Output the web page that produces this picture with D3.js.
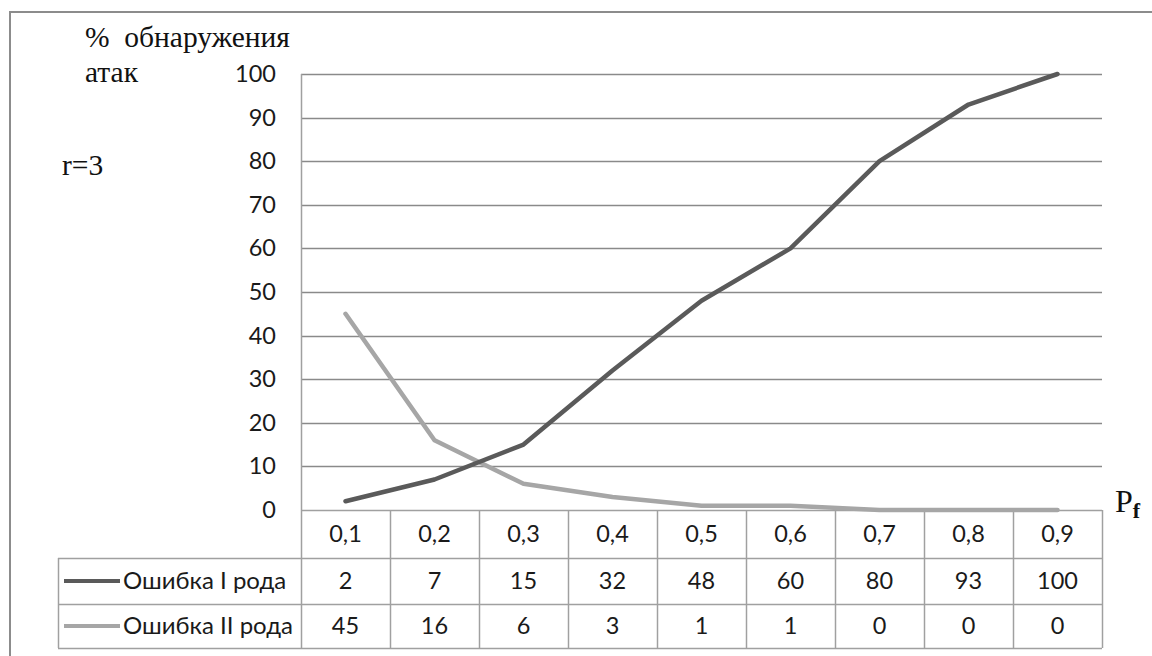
<!DOCTYPE html>
<html><head><meta charset="utf-8">
<script src="https://cdn.jsdelivr.net/npm/d3@7/dist/d3.min.js"></script>
<style>body{margin:0;background:#fff}svg{display:block}</style>
</head><body><svg id="c" width="1152" height="656"></svg>
<script>
const categories = ["0,1","0,2","0,3","0,4","0,5","0,6","0,7","0,8","0,9"];
const seriesNames = ["Ошибка I рода","Ошибка II рода"];
const error1 = [2,7,15,32,48,60,80,93,100];
const error2 = [45,16,6,3,1,1,0,0,0];
const yTicks = [0,10,20,30,40,50,60,70,80,90,100];
const seriesColors = ["#5a5a5a","#a6a6a6"];

const svg = d3.select("#c");
const L = 301, R = 1102, T = 74, B = 510;
const rowH = [48, 46, 44];
const tableLeft = 58;
const gridCol = "#8a8a8a", tabCol = "#a0a0a0";

const x = d3.scaleBand().domain(categories).range([L, R]);
const y = d3.scaleLinear().domain([0, 100]).range([B, T]);

svg.append("rect").attr("x",10).attr("y",12).attr("width",1160).attr("height",660)
  .attr("fill","none").attr("stroke","#8c8c8c").attr("stroke-width",2);

svg.append("g").selectAll("line").data(yTicks.filter(d=>d>0)).join("line")
  .attr("x1",L).attr("x2",R).attr("y1",d=>Math.round(y(d))+0.5).attr("y2",d=>Math.round(y(d))+0.5)
  .attr("stroke",gridCol).attr("stroke-width",1.5);

const fontS = "Lato,'Noto Sans',sans-serif";
const fs = 23.5;

const yAxis = d3.axisLeft(y).tickValues(yTicks).tickSize(0).tickPadding(0);
const ga = svg.append("g").attr("transform",`translate(${276},0)`).call(yAxis);
ga.select(".domain").remove();
ga.selectAll("text").attr("font-family",fontS).attr("font-size",fs).attr("fill","#1a1a1a");

const yRow0 = B, yRow1 = B + rowH[0], yRow2 = yRow1 + rowH[1], yRow3 = yRow2 + rowH[2];
const tg = svg.append("g").attr("stroke",tabCol).attr("stroke-width",1.5);
tg.append("line").attr("x1",L).attr("x2",R).attr("y1",yRow0+0.5).attr("y2",yRow0+0.5);
[yRow1,yRow2,yRow3].forEach(v=>tg.append("line").attr("x1",tableLeft).attr("x2",R).attr("y1",v+0.5).attr("y2",v+0.5));
tg.append("line").attr("x1",L+0.5).attr("x2",L+0.5).attr("y1",T).attr("y2",yRow3);
categories.forEach(c=>{
  const xe = x(c)+x.bandwidth();
  tg.append("line").attr("x1",xe+0.5).attr("x2",xe+0.5).attr("y1",yRow0).attr("y2",yRow3);
});
tg.append("line").attr("x1",tableLeft+0.5).attr("x2",tableLeft+0.5).attr("y1",yRow1).attr("y2",yRow3);

svg.append("g").selectAll("text").data(categories).join("text")
  .attr("x",d=>x(d)+x.bandwidth()/2).attr("y",(yRow0+yRow1)/2+8)
  .attr("text-anchor","middle").attr("font-family",fontS).attr("font-size",fs).attr("fill","#1a1a1a").text(d=>d);
[error1,error2].forEach((arr,i)=>{
  const yc = i===0 ? (yRow1+yRow2)/2 : (yRow2+yRow3)/2;
  svg.append("g").selectAll("text").data(arr).join("text")
    .attr("x",(d,j)=>x(categories[j])+x.bandwidth()/2).attr("y",yc+8)
    .attr("text-anchor","middle").attr("font-family",fontS).attr("font-size",fs).attr("fill","#1a1a1a").text(d=>d);
  svg.append("line").attr("x1",64).attr("x2",120).attr("y1",yc).attr("y2",yc)
    .attr("stroke",seriesColors[i]).attr("stroke-width",4);
  svg.append("text").attr("x",123).attr("y",yc+8).attr("font-family",fontS).attr("font-size",24)
    .attr("fill","#1a1a1a").text(seriesNames[i]);
});

const line = d3.line().x((d,i)=>x(categories[i])+x.bandwidth()/2).y(d=>y(d));
[[error2,1],[error1,0]].forEach(([arr,i])=>{
  svg.append("path").attr("d",line(arr)).attr("fill","none")
    .attr("stroke",seriesColors[i]).attr("stroke-width",4.5).attr("stroke-linejoin","round").attr("stroke-linecap","round");
});

const serif = "'Liberation Serif','Times New Roman',serif";
const sfs = 29.5;
svg.append("text").attr("x",85).attr("y",47).attr("font-family",serif).attr("font-size",sfs).attr("fill","#111").text("% \u00A0обнаружения");
svg.append("text").attr("x",85).attr("y",82).attr("font-family",serif).attr("font-size",sfs).attr("fill","#111").text("атак");
svg.append("text").attr("x",62).attr("y",175).attr("font-family",serif).attr("font-size",sfs).attr("fill","#111").text("r=3");
const pf = svg.append("text").attr("x",1115).attr("y",512).attr("font-family",serif).attr("font-size",32).attr("fill","#111");
pf.append("tspan").text("P");
pf.append("tspan").attr("dy",6).attr("font-size",22).attr("font-weight","bold").text("f");
</script></body></html>
